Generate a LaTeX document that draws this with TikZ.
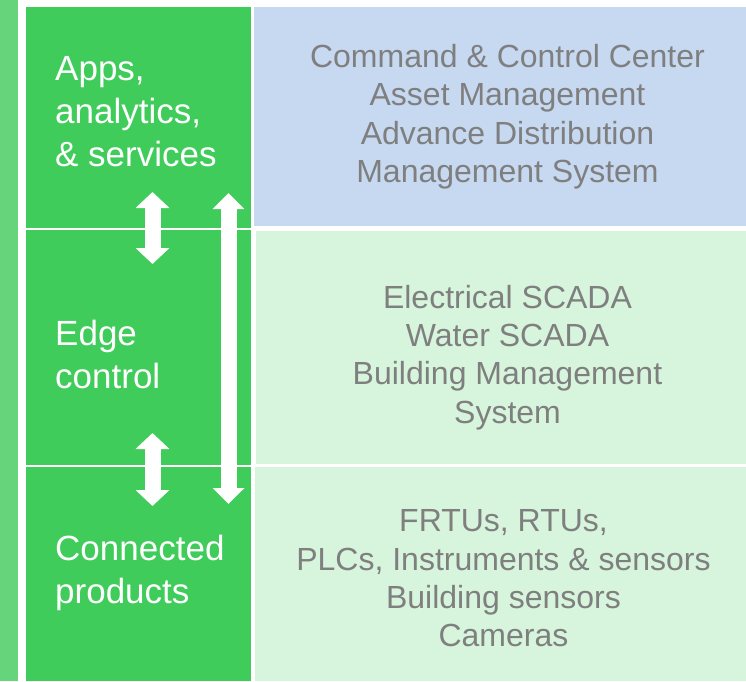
\documentclass[tikz,border=0pt]{standalone}
\usepackage{fontspec}
\setmainfont{Liberation Sans}
\usetikzlibrary{arrows.meta}
\definecolor{stripgreen}{RGB}{102,212,122}
\definecolor{layergreen}{RGB}{64,204,90}
\definecolor{topblue}{RGB}{198,217,241}
\definecolor{palegreen}{RGB}{215,245,221}
\definecolor{textgray}{RGB}{127,127,127}
\begin{document}
\begin{tikzpicture}[x=1pt,y=-1pt,
  panel/.style={inner sep=0pt, outer sep=0pt, anchor=north west},
  layerlabel/.style={text=white, font=\fontsize{35}{43}\selectfont, align=left, anchor=base west, inner sep=0pt},
  itemtext/.style={text=textgray, font=\fontsize{32}{38.3}\selectfont, align=center, anchor=base, inner sep=0pt},
  flowarrow/.style={draw=white, line width=16pt, {Triangle[length=16pt,width=33pt]}-{Triangle[length=16pt,width=33pt]}}]
\useasboundingbox (0,0) rectangle (746,681);
\fill[white] (0,0) rectangle (746,681);
% left strip
\node[panel, fill=stripgreen, minimum width=18pt, minimum height=681pt] (strip) at (0,0) {};
% green layer column
\node[panel, fill=layergreen, minimum width=225pt, minimum height=220.5pt] (apps) at (26,7) {};
\node[panel, fill=layergreen, minimum width=225pt, minimum height=235pt] (edge) at (26,230) {};
\node[panel, fill=layergreen, minimum width=225pt, minimum height=214pt] (products) at (26,467) {};
% right panels
\node[panel, fill=topblue, minimum width=492pt, minimum height=219pt] (appsbox) at (254,7) {};
\node[panel, fill=palegreen, minimum width=490pt, minimum height=233pt] (edgebox) at (256,231) {};
\node[panel, fill=palegreen, minimum width=491pt, minimum height=214pt] (productsbox) at (255,467) {};
% layer labels (anchor at baseline of last line)
\node[layerlabel] (appslabel) at (55,166) {Apps,\\analytics,\\\& services};
\node[layerlabel] (edgelabel) at (55,388) {Edge\\control};
\node[layerlabel] (productslabel) at (55,603) {Connected\\products};
% items
\node[itemtext] (appsitems) at (507.5,182.3) {Command \& Control Center\\Asset Management\\Advance Distribution\\Management System};
\node[itemtext] (edgeitems) at (507.5,423) {Electrical SCADA\\Water SCADA\\Building Management\\System};
\node[itemtext] (productsitems) at (503.5,646.7) {FRTUs, RTUs,\\PLCs, Instruments \& sensors\\Building sensors\\Cameras};
% arrows
\coordinate (a1top) at (152.5,192);
\coordinate (a1bot) at (152.5,264);
\coordinate (a2top) at (152.5,433);
\coordinate (a2bot) at (152.5,506);
\coordinate (a3top) at (228.5,193);
\coordinate (a3bot) at (228.5,504);
\draw[flowarrow] (a1top) -- (a1bot);
\draw[flowarrow] (a2top) -- (a2bot);
\draw[flowarrow, {Triangle[length=16pt,width=31pt]}-{Triangle[length=16pt,width=31pt]}] (a3top) -- (a3bot);
\end{tikzpicture}
\end{document}
